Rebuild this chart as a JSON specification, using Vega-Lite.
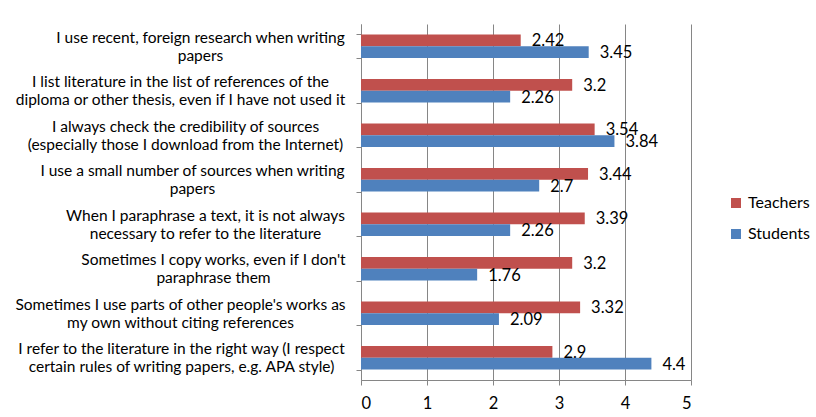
{
  "$schema": "https://vega.github.io/schema/vega-lite/v6.json",
  "autosize": {"type": "none"},
  "width": 330,
  "height": 356,
  "padding": {"left": 361, "top": 24, "right": 125, "bottom": 37},
  "background": "white",
  "config": {
    "view": {"stroke": null},
    "font": "Lato",
    "axis": {"labelFont": "Lato", "labelColor": "#000000"},
    "legend": {"labelFont": "Lato"}
  },
  "data": {
    "values": [
      {"q": "I use recent, foreign research when writing|papers", "group": "Teachers", "value": 2.42},
      {"q": "I use recent, foreign research when writing|papers", "group": "Students", "value": 3.45},
      {"q": "I list literature in the list of references of the|diploma or other thesis, even if I have not used it", "group": "Teachers", "value": 3.2},
      {"q": "I list literature in the list of references of the|diploma or other thesis, even if I have not used it", "group": "Students", "value": 2.26},
      {"q": "I always check the credibility of sources|(especially those I download from the Internet)", "group": "Teachers", "value": 3.54},
      {"q": "I always check the credibility of sources|(especially those I download from the Internet)", "group": "Students", "value": 3.84},
      {"q": "I use a small number of sources when writing|papers", "group": "Teachers", "value": 3.44},
      {"q": "I use a small number of sources when writing|papers", "group": "Students", "value": 2.7},
      {"q": "When I paraphrase a text, it is not always|necessary to refer to the literature", "group": "Teachers", "value": 3.39},
      {"q": "When I paraphrase a text, it is not always|necessary to refer to the literature", "group": "Students", "value": 2.26},
      {"q": "Sometimes I copy works, even if I don't|paraphrase them", "group": "Teachers", "value": 3.2},
      {"q": "Sometimes I copy works, even if I don't|paraphrase them", "group": "Students", "value": 1.76},
      {"q": "Sometimes I use parts of other people's works as|my own without citing references", "group": "Teachers", "value": 3.32},
      {"q": "Sometimes I use parts of other people's works as|my own without citing references", "group": "Students", "value": 2.09},
      {"q": "I refer to the literature in the right way (I respect|certain rules of writing papers, e.g. APA style)", "group": "Teachers", "value": 2.9},
      {"q": "I refer to the literature in the right way (I respect|certain rules of writing papers, e.g. APA style)", "group": "Students", "value": 4.4}
    ]
  },
  "encoding": {
    "y": {
      "field": "q",
      "type": "nominal",
      "sort": null,
      "title": null,
      "scale": {"paddingInner": 0.47, "paddingOuter": 0.235},
      "axis": {
        "labelExpr": "isString(datum.value) ? split(datum.value, '|') : ''",
        "labelAlign": "center",
        "labelBaseline": "middle",
        "labelFontSize": 15.5,
        "labelLineHeight": 18,
        "labelOffset": -9,
        "labelPadding": {
          "condition": [
            {"test": "isString(datum.value) && indexof(datum.value,'foreign')>=0", "value": 156},
            {"test": "isString(datum.value) && indexof(datum.value,'diploma')>=0", "value": 176},
            {"test": "isString(datum.value) && indexof(datum.value,'credibility')>=0", "value": 171},
            {"test": "isString(datum.value) && indexof(datum.value,'small number')>=0", "value": 164},
            {"test": "isString(datum.value) && indexof(datum.value,'paraphrase a text')>=0", "value": 151},
            {"test": "isString(datum.value) && indexof(datum.value,'copy works')>=0", "value": 143},
            {"test": "isString(datum.value) && indexof(datum.value,'parts of other')>=0", "value": 176}
          ],
          "value": 175
        },
        "labelLimit": 400,
        "tickBand": "extent",
        "tickSize": 5,
        "tickColor": "#868686",
        "domainColor": "#868686",
        "grid": false
      }
    },
    "yOffset": {"field": "group", "type": "nominal", "sort": ["Teachers", "Students"]},
    "x": {
      "field": "value",
      "type": "quantitative",
      "title": null,
      "scale": {"domain": [0, 5], "nice": false},
      "axis": {
        "values": [0, 1, 2, 3, 4, 5],
        "format": "d",
        "labelFontSize": 16.5,
        "labelPadding": 10,
        "tickSize": 5,
        "tickColor": "#868686",
        "domainColor": "#868686",
        "gridColor": "#868686",
        "gridOpacity": 1,
        "grid": true
      }
    }
  },
  "layer": [
    {
      "mark": {"type": "bar"},
      "encoding": {
        "color": {
          "field": "group",
          "type": "nominal",
          "scale": {"domain": ["Teachers", "Students"], "range": ["#C0504D", "#4F81BD"]},
          "legend": {
            "title": null,
            "orient": "none",
            "legendX": 367,
            "legendY": 171,
            "symbolType": "square",
            "symbolSize": 100,
            "symbolStrokeWidth": 0,
            "labelFontSize": 16,
            "labelOffset": 4,
            "rowPadding": 15
          }
        }
      }
    },
    {
      "mark": {"type": "text", "align": "left", "baseline": "middle", "dx": 11, "dy": 1, "fontSize": 16.5, "color": "#000000"},
      "encoding": {
        "text": {"field": "value", "type": "quantitative", "format": ".3~g"}
      }
    }
  ]
}
